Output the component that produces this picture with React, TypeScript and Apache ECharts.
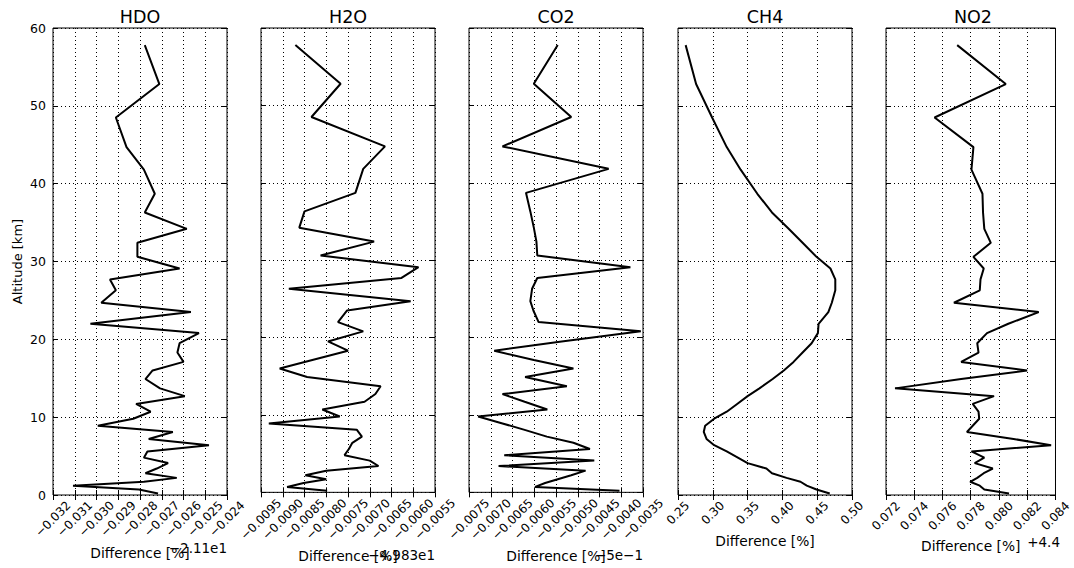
import React, { useEffect, useRef } from "react";
import * as echarts from "echarts";

// Altitude levels [km] shared by all panels (bottom to top)
const ALTITUDE = [0.2, 0.7, 1.2, 1.7, 2.2, 2.8, 3.4, 4.1, 4.8, 5.6, 6.4, 7.2, 8.1, 8.9, 9.8, 10.7, 11.7, 12.7, 13.7, 14.9, 16.0, 17.1, 18.3, 19.5, 20.8, 22.0, 23.5, 24.7, 26.3, 27.7, 29.1, 30.6, 32.4, 34.2, 36.3, 38.7, 41.8, 44.7, 48.5, 52.8, 57.8];

// Differences as shown on each axis (offset removed)
const HDO = [-0.02717, -0.02805, -0.03108, -0.02782, -0.02631, -0.02775, -0.02723, -0.02671, -0.02782, -0.02766, -0.02483, -0.02760, -0.02649, -0.02994, -0.02831, -0.02751, -0.02818, -0.02594, -0.02708, -0.02775, -0.02742, -0.02600, -0.02628, -0.02618, -0.02529, -0.03028, -0.02566, -0.02978, -0.02911, -0.02938, -0.02618, -0.02812, -0.02812, -0.02585, -0.02778, -0.02732, -0.02782, -0.02862, -0.02911, -0.02711, -0.02778];
const H2O = [-0.00798, -0.00890, -0.00852, -0.00800, -0.00848, -0.00800, -0.00680, -0.00700, -0.00758, -0.00748, -0.00740, -0.00718, -0.00730, -0.00932, -0.00769, -0.00809, -0.00712, -0.00687, -0.00675, -0.00844, -0.00907, -0.00832, -0.00750, -0.00796, -0.00715, -0.00773, -0.00752, -0.00606, -0.00886, -0.00627, -0.00588, -0.00813, -0.00690, -0.00862, -0.00850, -0.00733, -0.00715, -0.00665, -0.00834, -0.00767, -0.00871];
const CO2 = [-0.00404, -0.00598, -0.00575, -0.00546, -0.00515, -0.00482, -0.00682, -0.00462, -0.00669, -0.00472, -0.00510, -0.00571, -0.00624, -0.00673, -0.00729, -0.00570, -0.00622, -0.00673, -0.00525, -0.00621, -0.00510, -0.00601, -0.00692, -0.00537, -0.00355, -0.00590, -0.00602, -0.00609, -0.00605, -0.00593, -0.00379, -0.00593, -0.00595, -0.00601, -0.00609, -0.00619, -0.00429, -0.00673, -0.00515, -0.00601, -0.00546];
const CH4 = [0.468, 0.449, 0.435, 0.426, 0.406, 0.385, 0.377, 0.350, 0.336, 0.320, 0.302, 0.291, 0.287, 0.289, 0.302, 0.320, 0.335, 0.350, 0.367, 0.386, 0.402, 0.416, 0.429, 0.442, 0.451, 0.452, 0.466, 0.471, 0.476, 0.476, 0.469, 0.449, 0.429, 0.409, 0.385, 0.364, 0.340, 0.320, 0.299, 0.276, 0.261];
const NO2 = [0.08071, 0.07896, 0.07864, 0.07796, 0.07846, 0.07892, 0.07956, 0.07828, 0.07896, 0.07805, 0.08369, 0.08103, 0.07773, 0.07814, 0.07860, 0.07855, 0.07814, 0.07965, 0.07264, 0.07732, 0.08199, 0.07732, 0.07855, 0.07846, 0.07915, 0.08066, 0.08281, 0.07681, 0.07864, 0.07869, 0.07892, 0.07819, 0.07942, 0.07896, 0.07887, 0.07883, 0.07805, 0.07819, 0.07544, 0.08048, 0.07704];

const PANEL_TITLES = ["HDO", "H2O", "CO2", "CH4", "NO2"];
const PANEL_VALUES = [HDO, H2O, CO2, CH4, NO2];
const X_MIN = [-0.032, -0.0095, -0.0075, 0.25, 0.072];
const X_MAX = [-0.024, -0.0055, -0.0035, 0.5, 0.084];
const X_STEP = [0.001, 0.0005, 0.0005, 0.05, 0.002];
const X_DECIMALS = [3, 4, 4, 2, 3];
const X_OFFSET_TEXT = ["\u22122.11e1", "\u22124.983e1", "\u22125e\u22121", "", "+4.4"];
const X_AXIS_TITLE = "Difference [%]";
const Y_AXIS_TITLE = "Altitude [km]";
const Y_MIN = 0;
const Y_MAX = 60;
const Y_STEP = 10;

// layout (pixels)
const LEFTS = [53, 261, 469, 678, 886];
const PANEL_W = 174;
const TOP = 28;
const PANEL_H = 467;
const LABEL_MARGIN = [24, 27, 27, 18, 21];
const NAME_GAP = [49, 56, 56, 38, 43];
const FONT = "DejaVu Sans";

const fmt = (d: number) => (v: number) => v.toFixed(d).replace("-", "\u2212");

export default function App() {
  const ref = useRef<HTMLDivElement>(null);
  useEffect(() => {
    if (!ref.current) return;
    const chart = echarts.init(ref.current, undefined, { renderer: "svg" });
    const grid: any[] = [];
    const xAxis: any[] = [];
    const yAxis: any[] = [];
    const series: any[] = [];
    const graphic: any[] = [];
    const tick = { inside: true, length: 5, lineStyle: { color: "#000", width: 1 } };
    PANEL_TITLES.forEach((name, i) => {
      grid.push({
        left: LEFTS[i], top: TOP, width: PANEL_W, height: PANEL_H,
        show: true, borderColor: "#000", borderWidth: 1, backgroundColor: "transparent",
      });
      xAxis.push({
        type: "value", gridIndex: i, position: "bottom",
        min: X_MIN[i], max: X_MAX[i], interval: X_STEP[i],
        name: X_AXIS_TITLE, nameLocation: "middle", nameGap: NAME_GAP[i],
        nameTextStyle: { fontFamily: FONT, fontSize: 13.8, color: "#000" },
        axisLine: { show: false },
        axisTick: tick,
        axisLabel: {
          rotate: 45, align: "center", verticalAlign: "middle", margin: LABEL_MARGIN[i],
          fontFamily: FONT, fontSize: 12, color: "#000", formatter: fmt(X_DECIMALS[i]),
          showMinLabel: true, showMaxLabel: true,
        },
        splitLine: { show: true, lineStyle: { color: "#000", width: 1, type: [1, 3] } },
      });
      xAxis.push({
        type: "value", gridIndex: i, position: "top",
        min: X_MIN[i], max: X_MAX[i], interval: X_STEP[i],
        axisLine: { show: false }, axisTick: tick, axisLabel: { show: false }, splitLine: { show: false },
      });
      yAxis.push({
        type: "value", gridIndex: i, position: "left",
        min: Y_MIN, max: Y_MAX, interval: Y_STEP,
        name: i === 0 ? Y_AXIS_TITLE : "", nameLocation: "middle", nameGap: 29,
        nameTextStyle: { fontFamily: FONT, fontSize: 13, color: "#000" },
        axisLine: { show: false },
        axisTick: tick,
        axisLabel: { show: i === 0, fontFamily: FONT, fontSize: 12.5, color: "#000", margin: 7 },
        splitLine: { show: true, lineStyle: { color: "#000", width: 1, type: [1, 3] } },
      });
      yAxis.push({
        type: "value", gridIndex: i, position: "right",
        min: Y_MIN, max: Y_MAX, interval: Y_STEP,
        axisLine: { show: false }, axisTick: tick, axisLabel: { show: false }, splitLine: { show: false },
      });
      series.push({
        type: "line", name, xAxisIndex: 2 * i, yAxisIndex: 2 * i,
        data: ALTITUDE.map((a, k) => [PANEL_VALUES[i][k], a]),
        showSymbol: false, symbol: "none",
        lineStyle: { color: "#000", width: 2 },
        clip: true,
      });
      graphic.push({
        type: "text", x: LEFTS[i] + PANEL_W / 2, y: 17,
        style: { text: name, fontFamily: FONT, fontSize: 17.5, fill: "#000", align: "center", verticalAlign: "middle" },
      });
      if (X_OFFSET_TEXT[i]) {
        graphic.push({
          type: "text", x: LEFTS[i] + PANEL_W, y: TOP + PANEL_H + NAME_GAP[i] + 4,
          style: { text: X_OFFSET_TEXT[i], fontFamily: FONT, fontSize: 13.5, fill: "#000", align: "right", verticalAlign: "middle" },
        });
      }
    });
    chart.setOption({
      animation: false,
      backgroundColor: "#fff",
      grid, xAxis, yAxis, series, graphic,
    });
    return () => chart.dispose();
  }, []);
  return <div ref={ref} style={{ position: "absolute", left: 0, top: 0, width: 1074, height: 568 }} />;
}
